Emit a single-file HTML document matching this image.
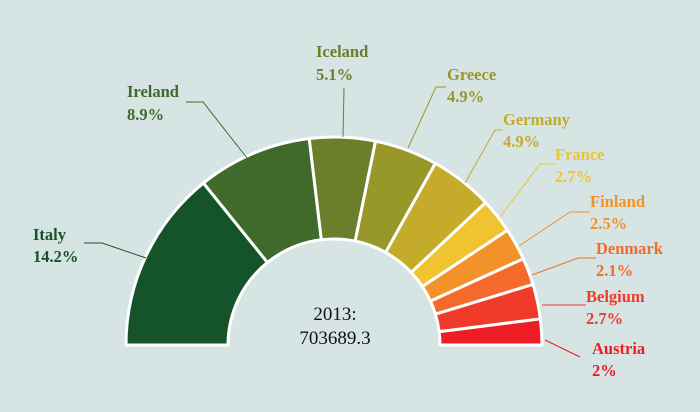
<!DOCTYPE html><html><head><style>body{margin:0;background:#d6e4e4}svg{display:block}text{font-family:"Liberation Serif",serif;font-weight:bold;font-size:16.5px}</style></head><body>
<svg id="s" width="700" height="412" xmlns="http://www.w3.org/2000/svg">
<rect width="700" height="412" fill="#d6e4e4"/>
<g id="arcs"></g>
<g fill="none" stroke-width="1">
<polyline points="84,243 102,243 146,258" stroke="#15532b"/>
<polyline points="186,102 203,102 247,158" stroke="#3f6a2b"/>
<polyline points="344,88 343,137" stroke="#6b7f2a"/>
<polyline points="446,87 436,87 408,148" stroke="#97972a"/>
<polyline points="503,130 495,130 465,183" stroke="#c4ab2a"/>
<polyline points="555,164 540,164 500,217" stroke="#f0c330"/>
<polyline points="590,212 570,212 519,246" stroke="#f39229"/>
<polyline points="596,258 578,258 532,275" stroke="#f36a2b"/>
<polyline points="586,305 542,305" stroke="#f03a2a"/>
<polyline points="580,357 545,340" stroke="#ee1c25"/>
</g>
<text x="33" y="240" fill="#15532b">Italy<tspan x="33" y="262">14.2%</tspan></text>
<text x="127" y="97" fill="#3f6a2b">Ireland<tspan x="127" y="120">8.9%</tspan></text>
<text x="316" y="57" fill="#6b7f2a">Iceland<tspan x="316" y="80">5.1%</tspan></text>
<text x="447" y="80" fill="#97972a">Greece<tspan x="447" y="102">4.9%</tspan></text>
<text x="503" y="125" fill="#c4ab2a">Germany<tspan x="503" y="147">4.9%</tspan></text>
<text x="555" y="160" fill="#f0c330">France<tspan x="555" y="182">2.7%</tspan></text>
<text x="590" y="207" fill="#f39229">Finland<tspan x="590" y="229">2.5%</tspan></text>
<text x="596" y="254" fill="#f36a2b">Denmark<tspan x="596" y="276">2.1%</tspan></text>
<text x="586" y="302" fill="#f03a2a">Belgium<tspan x="586" y="324">2.7%</tspan></text>
<text x="592" y="354" fill="#ee1c25">Austria<tspan x="592" y="376">2%</tspan></text>
<text x="335" y="320" text-anchor="middle" style="font-weight:normal;font-size:19px" fill="#111">2013:</text>
<text x="335" y="344" text-anchor="middle" style="font-weight:normal;font-size:19px" fill="#111">703689.3</text>
</svg>
<script>
var v=[14.2,8.9,5.1,4.9,4.9,2.7,2.5,2.1,2.7,2],c=["#15532b","#3f6a2b","#6b7f2a","#97972a","#c4ab2a","#f0c330","#f39229","#f36a2b","#f03a2a","#ee1c25"];
var cx=334,cy=345,R=208,r=106,a=Math.PI,h="";
function p(rad,t){return (cx+rad*Math.cos(t)).toFixed(2)+","+(cy-rad*Math.sin(t)).toFixed(2)}
for(var i=0;i<v.length;i++){var b=a-v[i]/50*Math.PI;var l=(a-b)>Math.PI?1:0;
h+='<path d="M'+p(R,a)+' A'+R+','+R+' 0 '+l+' 1 '+p(R,b)+' L'+p(r,b)+' A'+r+','+r+' 0 '+l+' 0 '+p(r,a)+' Z" fill="'+c[i]+'" stroke="#fff" stroke-width="3" stroke-linejoin="round"/>';a=b;}
document.getElementById("arcs").innerHTML=h;
</script>
</body></html>
